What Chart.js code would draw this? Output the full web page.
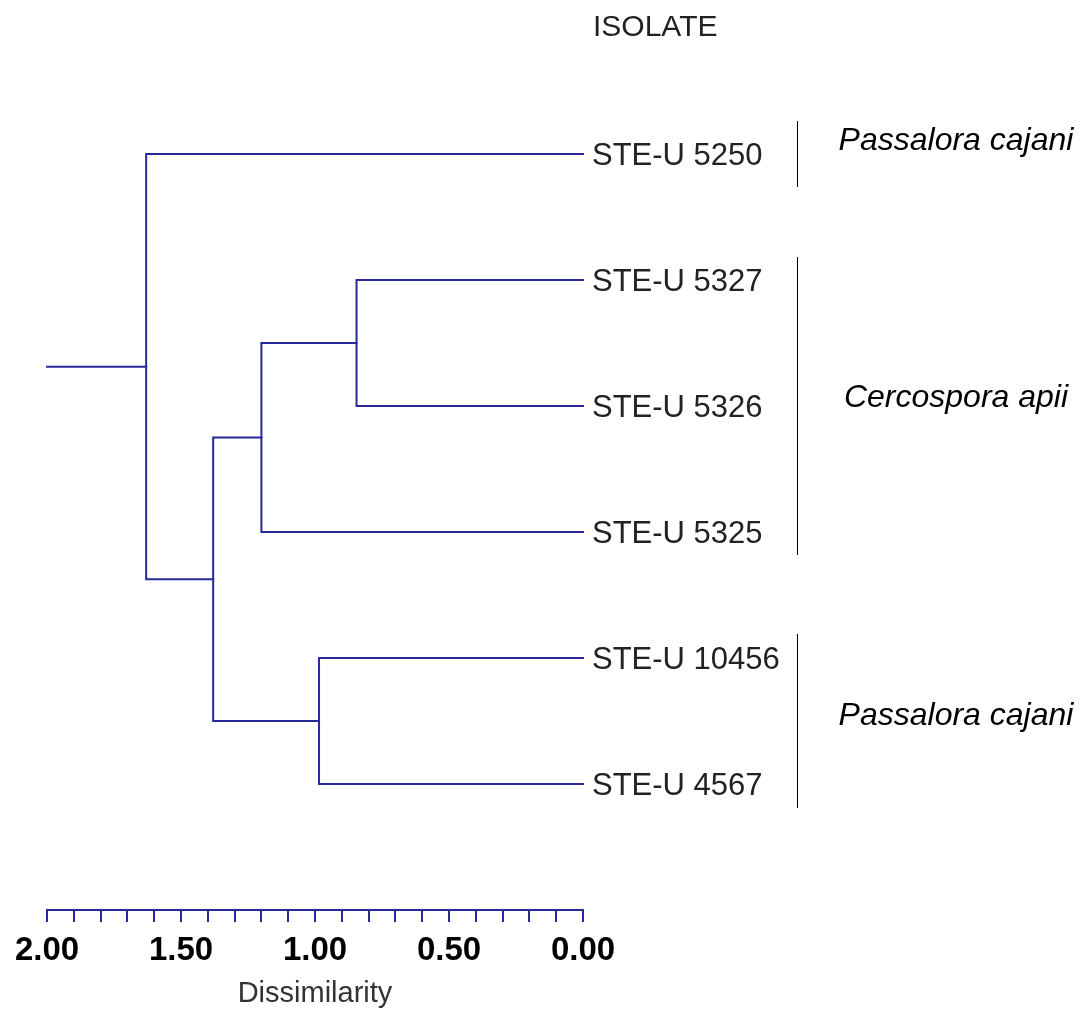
<!DOCTYPE html>
<html lang="en">
<head>
    <meta charset="UTF-8">
    <title>Isolate dendrogram</title>
    <script src="https://cdn.jsdelivr.net/npm/chart.js"></script>
    <style>
        body { margin: 0; background: #fff; }
        canvas { display: block; }
    </style>
</head>
<body>
    <canvas id="treeChart" width="1090" height="1023"></canvas>

    <script>
        // leaves, top to bottom
        const isolates = ["STE-U 5250", "STE-U 5327", "STE-U 5326", "STE-U 5325", "STE-U 10456", "STE-U 4567"];

        // merges: node 6, 7, 8, ... joins mergeA[i] and mergeB[i] at mergeHeight[i]
        const mergeA = [1, 6, 4, 7, 0];
        const mergeB = [2, 3, 5, 8, 9];
        const mergeHeight = [0.845, 1.20, 0.985, 1.38, 1.63];

        // species groups (first and last leaf index)
        const speciesNames = ["Passalora cajani", "Cercospora apii", "Passalora cajani"];
        const groupFirst = [0, 1, 4];
        const groupLast = [0, 3, 5];

        const axisMax = 2.0;
        const tickLabels = ["2.00", "1.50", "1.00", "0.50", "0.00"];

        const lineColor = "#28289a";
        const fontFam = "'Liberation Sans', Arial, sans-serif";

        // node heights and vertical positions (leaves are 0..n-1)
        const nodeX = isolates.map(() => 0);
        const nodeY = isolates.map((_, i) => i);
        mergeA.forEach((a, i) => {
            nodeX.push(mergeHeight[i]);
            nodeY.push((nodeY[a] + nodeY[mergeB[i]]) / 2);
        });

        const datasets = mergeA.map((a, i) => {
            const b = mergeB[i];
            const h = mergeHeight[i];
            return {
                data: [
                    { x: nodeX[a], y: nodeY[a] },
                    { x: h, y: nodeY[a] },
                    { x: h, y: nodeY[b] },
                    { x: nodeX[b], y: nodeY[b] }
                ]
            };
        });
        const rootIdx = nodeX.length - 1;
        datasets.push({
            data: [
                { x: axisMax, y: nodeY[rootIdx] },
                { x: nodeX[rootIdx], y: nodeY[rootIdx] }
            ]
        });
        datasets.forEach(d => {
            d.showLine = true;
            d.borderColor = lineColor;
            d.borderWidth = 2;
            d.pointRadius = 0;
            d.borderJoinStyle = "miter";
            d.borderCapStyle = "square";
            d.clip = false;
        });

        const labelsPlugin = {
            id: "treeLabels",
            afterDraw(chart) {
                const ctx = chart.ctx;
                const area = chart.chartArea;
                const ys = chart.scales.y;
                ctx.save();

                // header
                ctx.fillStyle = "#222";
                ctx.font = "30px " + fontFam;
                ctx.textAlign = "left";
                ctx.textBaseline = "alphabetic";
                ctx.fillText("ISOLATE", area.right + 10, 36);

                // leaf labels
                ctx.font = "31px " + fontFam;
                isolates.forEach((name, i) => {
                    ctx.fillText(name, area.right + 9, ys.getPixelForValue(i) + 11);
                });

                // species brackets and names
                const pads = [33, 23, 24];
                const shift = [-13, -8, -5];
                ctx.strokeStyle = "#000";
                ctx.lineWidth = 1;
                ctx.fillStyle = "#000";
                ctx.font = "italic 32px " + fontFam;
                ctx.textAlign = "center";
                ctx.textBaseline = "middle";
                speciesNames.forEach((name, g) => {
                    const y0 = ys.getPixelForValue(groupFirst[g]) - pads[g];
                    const y1 = ys.getPixelForValue(groupLast[g]) + pads[g];
                    const bx = area.right + 214.5;
                    ctx.beginPath();
                    ctx.moveTo(bx, y0);
                    ctx.lineTo(bx, y1);
                    ctx.stroke();
                    const mid = (ys.getPixelForValue(groupFirst[g]) + ys.getPixelForValue(groupLast[g])) / 2;
                    ctx.fillText(name, area.right + 373, mid + shift[g]);
                });
                ctx.restore();
            }
        };

        new Chart(document.getElementById("treeChart"), {
            type: "scatter",
            data: { datasets: datasets },
            plugins: [labelsPlugin],
            options: {
                responsive: false,
                animation: false,
                events: [],
                layout: { padding: { left: 47, right: 507, top: 28, bottom: 0 } },
                plugins: {
                    legend: { display: false },
                    tooltip: { enabled: false }
                },
                scales: {
                    x: {
                        type: "linear",
                        position: "bottom",
                        min: 0,
                        max: axisMax,
                        reverse: true,
                        afterFit: s => { s.height = 113; },
                        border: { display: true, color: lineColor, width: 2 },
                        grid: {
                            drawOnChartArea: false,
                            drawTicks: true,
                            tickLength: 12,
                            color: lineColor,
                            lineWidth: 2
                        },
                        ticks: {
                            stepSize: 0.1,
                            autoSkip: false,
                            maxRotation: 0,
                            padding: 9,
                            color: "#000",
                            font: { family: fontFam, size: 33, weight: "bold" },
                            callback: v => {
                                const k = Math.round(v * 10);
                                return k % 5 === 0 ? tickLabels[(20 - k) / 5] : "";
                            }
                        },
                        title: {
                            display: true,
                            text: "Dissimilarity",
                            color: "#333",
                            font: { family: fontFam, size: 29 },
                            padding: { top: 0, bottom: 12 }
                        }
                    },
                    y: {
                        display: false,
                        min: -1,
                        max: 6,
                        reverse: true
                    }
                }
            }
        });
    </script>
</body>
</html>
